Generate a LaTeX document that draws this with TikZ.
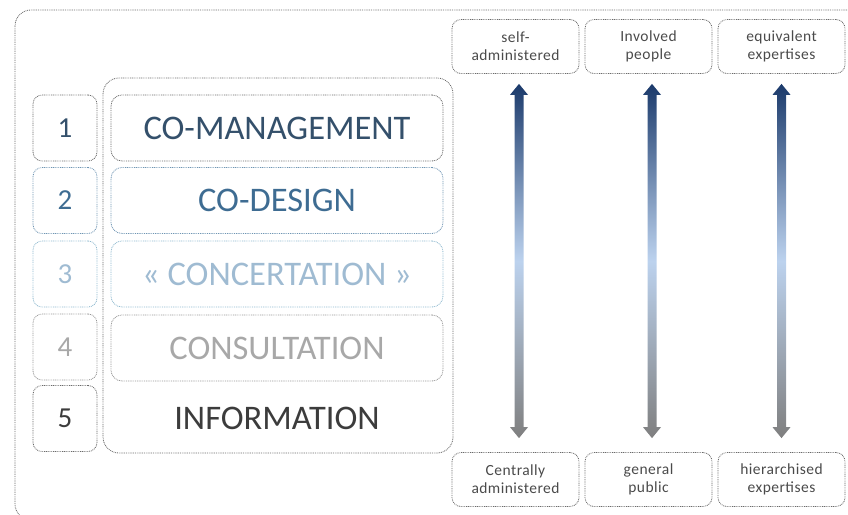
\documentclass[tikz,border=0pt]{standalone}
\usepackage{fontspec}
\setmainfont{Carlito}
\usetikzlibrary{calc}
\definecolor{dotgray}{HTML}{6A6A6A}
\definecolor{lvA}{HTML}{34506B}
\definecolor{lvB}{HTML}{3E6C92}
\definecolor{lvC}{HTML}{9FBBD2}
\definecolor{lvD}{HTML}{A8A8A8}
\definecolor{lvE}{HTML}{3C3C3C}
\definecolor{bdB}{HTML}{6F95B3}
\definecolor{bdC}{HTML}{8DB8CE}
\definecolor{bdD}{HTML}{959595}
\definecolor{arTop}{HTML}{1B3A6B}
\definecolor{arMid}{HTML}{BCD2EE}
\definecolor{arBot}{HTML}{7F7F7F}
\definecolor{smalltext}{HTML}{4A4A4A}
\begin{document}
\begin{tikzpicture}[x=1pt,y=-1pt,
  dotline/.style={draw=dotgray,line width=0.8pt,dash pattern=on 0.9pt off 0.9pt},
  numbox/.style={dotline,rounded corners=9pt,minimum width=64pt,minimum height=66pt,inner sep=0pt,font=\fontsize{29}{30}\selectfont},
  lvbox/.style={dotline,rounded corners=11pt,minimum width=332pt,minimum height=66pt,inner sep=0pt,font=\fontsize{34.5}{36}\selectfont},
  tagbox/.style={dotline,rounded corners=9pt,minimum width=127pt,minimum height=54pt,inner sep=0pt,align=center,text=smalltext,font=\fontsize{15.5}{18}\selectfont\addfontfeature{LetterSpace=3}},
  gradarrow/.style={top color=arTop,bottom color=arBot,middle color=arMid,draw=none}
]
\useasboundingbox (0,0) rectangle (848,514);
% outer frame
\draw[dotline,rounded corners=16pt] (15,10) rectangle (870,520);
% container
\node[dotline,rounded corners=16pt,minimum width=350pt,minimum height=375pt,inner sep=0pt] (cont) at (278,265.5) {};
% number boxes
\node[numbox,text=lvA] (n1) at (65,128) {1};
\node[numbox,draw=bdB,text=lvB] (n2) at (65,200.5) {2};
\node[numbox,draw=bdC,text=lvC] (n3) at (65,274) {3};
\node[numbox,draw=bdD,text=lvD] (n4) at (65,347) {4};
\node[numbox,text=lvE] (n5) at (65,418.5) {5};
% level boxes
\node[lvbox,text=lvA] (l1) at (277,128) {CO-MANAGEMENT};
\node[lvbox,draw=bdB,text=lvB] (l2) at (277,200.5) {CO-DESIGN};
\node[lvbox,draw=bdC,text=lvC] (l3) at (277,274) {« CONCERTATION »};
\node[lvbox,draw=bdD,text=lvD] (l4) at (277,348) {CONSULTATION};
\node[inner sep=0pt,text=lvE,font=\fontsize{34.5}{36}\selectfont] (l5) at (277,418.5) {INFORMATION};
% tag boxes
\node[tagbox] (t1) at (515.5,46.5) {self-\\administered};
\node[tagbox] (t2) at (648.5,46.5) {Involved\\people};
\node[tagbox] (t3) at (781.5,46.5) {equivalent\\expertises};
\node[tagbox] (b1) at (515.5,479.5) {Centrally\\administered};
\node[tagbox] (b2) at (648.5,479.5) {general\\public};
\node[tagbox] (b3) at (781.5,479.5) {hierarchised\\expertises};
% gradient double arrows
\foreach \t/\b/\dx in {t1/b1/3.5,t2/b2/3.5,t3/b3/0}{
  \coordinate (top) at ($(\t.south)+(\dx,10)$);
  \coordinate (bot) at ($(\b.north)+(\dx,-14)$);
  \shade[gradarrow]
    (top) -- ++(9,11) -- ++(-4.5,0) |- ($(bot)+(4.5,-11)$) -- ++(4.5,0) -- (bot)
    -- ++(-9,-11) -- ++(4.5,0) |- ($(top)+(-4.5,11)$) -- ++(-4.5,0) -- cycle;
}
\end{tikzpicture}
\end{document}
